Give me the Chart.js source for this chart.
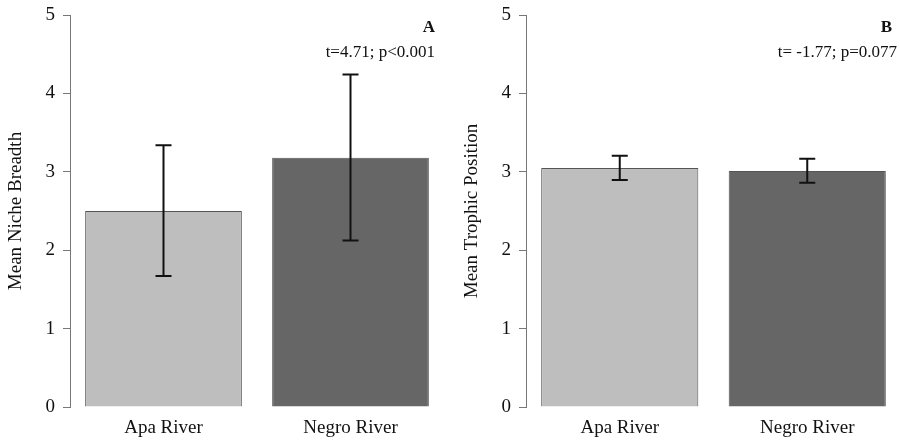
<!DOCTYPE html>
<html>
<head>
<meta charset="utf-8">
<script src="https://cdn.jsdelivr.net/npm/chart.js@4.4.0/dist/chart.umd.min.js"></script>
<style>
  html, body { margin: 0; padding: 0; background: #fff; overflow: hidden; }
  #wrap { position: relative; width: 900px; height: 441px; overflow: hidden; }
  canvas { position: absolute; top: 0; }
</style>
</head>
<body>
<div id="wrap">
  <canvas id="panel-a" width="450" height="441" style="left:0"></canvas>
  <canvas id="panel-b" width="450" height="441" style="left:456px"></canvas>
</div>
<script>
const categories = ['Apa River', 'Negro River'];
const barColors = ['#bebebe', '#666666'];

// panel A - niche breadth
const nicheMean = [2.50, 3.18];
const nicheLow = [1.67, 2.125];
const nicheHigh = [3.34, 4.24];

// panel B - trophic position
const trophicMean = [3.05, 3.01];
const trophicLow = [2.895, 2.86];
const trophicHigh = [3.205, 3.165];

const serif = '"Liberation Serif", "Times New Roman", serif';

const errorBars = {
   id: 'errorBars',
   afterDatasetsDraw(chart, args, opts) {
      const ctx = chart.ctx
      const y = chart.scales.y
      const meta = chart.getDatasetMeta(0)
      ctx.save()
      ctx.strokeStyle = '#111'
      ctx.lineWidth = 2
      meta.data.forEach((bar, i) => {
         const top = y.getPixelForValue(opts.high[i])
         const bot = y.getPixelForValue(opts.low[i])
         ctx.beginPath()
         ctx.moveTo(bar.x, top); ctx.lineTo(bar.x, bot)
         ctx.moveTo(bar.x - 8, top); ctx.lineTo(bar.x + 8, top)
         ctx.moveTo(bar.x - 8, bot); ctx.lineTo(bar.x + 8, bot)
         ctx.stroke()
      })
      ctx.restore()
   }
}

const panelText = {
   id: 'panelText',
   afterDraw(chart, args, opts) {
      const ctx = chart.ctx
      const right = chart.chartArea.right
      ctx.save()
      ctx.fillStyle = '#111'
      ctx.textAlign = 'right'
      ctx.textBaseline = 'middle'
      ctx.font = 'bold 17px ' + serif
      ctx.fillText(opts.letter, right - 9, 28)
      ctx.font = '17px ' + serif
      ctx.fillText(opts.stat, right - opts.statOffset, 53)
      ctx.restore()
   }
}

function makePanel(id, means, low, high, yTitle, letter, stat, statOffset, padRight) {
   new Chart(document.getElementById(id), {
      type: 'bar',
      data: {
         labels: categories,
         datasets: [{
            data: means,
            backgroundColor: barColors,
            borderColor: '#555',
            borderWidth: 1,
            barPercentage: 0.838,
            categoryPercentage: 1
         }]
      },
      options: {
         responsive: false,
         animation: false,
         layout: { padding: { top: 15, right: padRight, bottom: 0, left: 0 } },
         scales: {
            x: {
               grid: { display: false, drawTicks: false },
               border: { display: false },
               ticks: { color: '#111', padding: 10, font: { family: serif, size: 19 } },
               afterFit: s => { s.height = 34; s.paddingLeft = 0; s.paddingRight = 0 }
            },
            y: {
               min: 0,
               max: 5,
               ticks: { stepSize: 1, color: '#111', padding: 8, font: { family: serif, size: 19 } },
               grid: { drawOnChartArea: false, drawTicks: true, tickLength: 7, color: '#777', lineWidth: 1 },
               border: { display: true, color: '#777', width: 1 },
               title: {
                  display: true,
                  text: yTitle,
                  color: '#111',
                  font: { family: serif, size: 19 },
                  padding: { top: 5, bottom: 0 }
               },
               afterFit: s => { s.width = 70; s.paddingTop = 0; s.paddingBottom = 0 }
            }
         },
         plugins: {
            legend: { display: false },
            tooltip: { enabled: false },
            errorBars: { low: low, high: high },
            panelText: { letter: letter, stat: stat, statOffset: statOffset }
         }
      },
      plugins: [errorBars, panelText]
   })
}

makePanel('panel-a', nicheMean, nicheLow, nicheHigh, 'Mean Niche Breadth', 'A', 't=4.71; p<0.001', 9, 6)
makePanel('panel-b', trophicMean, trophicLow, trophicHigh, 'Mean Trophic Position', 'B', 't= -1.77; p=0.077', 4, 5)
</script>
</body>
</html>
